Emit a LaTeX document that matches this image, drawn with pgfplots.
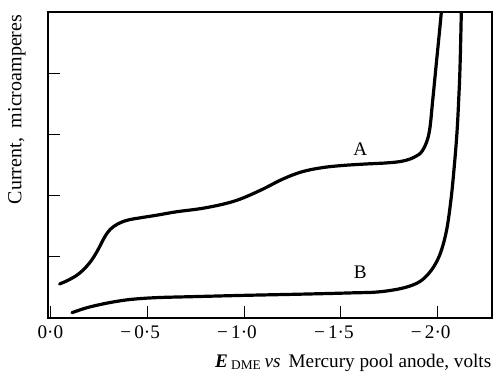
\documentclass[border=0pt]{standalone}
\usepackage{fontspec}
\setmainfont{Liberation Serif}
\usepackage{pgfplots}
\pgfplotsset{compat=1.18}

\begin{document}
\begin{tikzpicture}
\begin{axis}[
    scale only axis=true,
    width=333pt, height=229.5pt,
    xmin=-0.012, xmax=2.28,
    ymin=0, ymax=5,
    axis line style={line width=1.1pt},
    tick pos=left,
    tick align=inside,
    major tick length=9pt,
    tick style={line width=0.8pt, black},
    xtick={0,0.5,1,1.5,2},
    xticklabels={0·0, \llap{−\,}0·5, \llap{−\,}1·0, \llap{−\,}1·5, \llap{−\,}2·0},
    ytick={1,2,3,4},
    yticklabels={},
    font=\fontsize{14.4}{17}\selectfont,
    xticklabel style={anchor=base, yshift=-15pt},
    clip=true,
]
% curve A
\addplot[smooth, tension=0.6, line width=2.4pt, line cap=round] coordinates {
    (0.048,0.556) (0.10,0.63) (0.15,0.73) (0.20,0.89) (0.24,1.08)
    (0.28,1.32) (0.31,1.45) (0.35,1.54) (0.40,1.60) (0.47,1.64) (0.55,1.68)
    (0.65,1.735) (0.80,1.80) (0.95,1.91) (1.08,2.08) (1.20,2.27)
    (1.30,2.39) (1.40,2.455) (1.50,2.49) (1.62,2.515) (1.74,2.535) (1.82,2.565) (1.88,2.63)
    (1.922,2.74) (1.955,3.02) (1.974,3.56) (1.991,4.11) (2.008,4.65) (2.020,5.05)
};
% curve B
\addplot[smooth, tension=0.6, line width=2.4pt, line cap=round] coordinates {
    (0.112,0.087) (0.18,0.16) (0.25,0.215) (0.33,0.265) (0.42,0.305)
    (0.55,0.333) (0.75,0.35) (1.0,0.37) (1.3,0.39) (1.55,0.41)
    (1.706,0.43) (1.844,0.51) (1.930,0.65) (1.999,0.95) (2.042,1.38)
    (2.068,1.93) (2.085,2.47) (2.099,3.02) (2.108,3.56) (2.115,4.11) (2.122,5.05)
};
\node at (axis cs:1.60,2.76) {A};
\node at (axis cs:1.60,0.75) {B};
\end{axis}
\node[anchor=base east, font=\fontsize{14.4}{17}\selectfont]
    at ([xshift=3pt,yshift=-36.75pt]current axis.south east)
    {\textbf{\textit{E}}\,\textsubscript{DME}\,\textit{vs}\, Mercury pool anode, volts};
\node[rotate=90, anchor=base east, font=\fontsize{15}{17}\selectfont]
    at ([xshift=-20pt,yshift=1.5pt]current axis.north west)
    {Current,\enspace microamperes};
\path (current axis.south west) ++(-36pt,-42pt) rectangle ++(375pt,280.5pt);
\end{tikzpicture}
\end{document}
